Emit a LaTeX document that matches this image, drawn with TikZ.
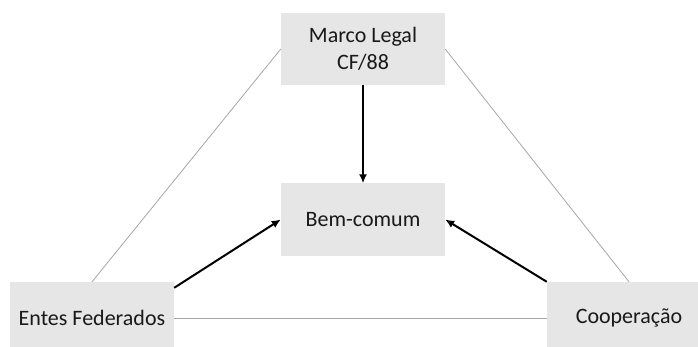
\documentclass[tikz,border=0pt]{standalone}
\usepackage{fontspec}
\setmainfont{Carlito}
\usetikzlibrary{arrows.meta}
\definecolor{boxgray}{HTML}{E6E6E6}
\definecolor{linegray}{HTML}{A6A6A6}
\tikzset{
  box/.style={fill=boxgray, draw=none, minimum width=164pt, minimum height=72pt, inner sep=0pt, align=center, font=\fontsize{22}{27}\selectfont, text=black!90},
  thinline/.style={draw=linegray, line width=0.8pt},
  arrowline/.style={draw=black, line width=2pt, -{Latex[length=9pt,width=8pt]}}
}
\begin{document}
\begin{tikzpicture}[x=1pt,y=-1pt]
\useasboundingbox (0,0) rectangle (698,347);
\node[box] (top) at (363,49) {Marco Legal\\CF/88};
\node[box] (bem) at (363,219.5) {Bem-comum};
\node[box] (left) at (92,318) {Entes Federados};
\node[box] (right) at (629,318) {Cooperação};
\coordinate (ls) at ([yshift=-6pt]left.north east);
\draw[thinline] (top.west) -- (left.north);
\draw[thinline] (top.east) -- (right.north);
\draw[thinline] (left.east) -- (right.west);
\draw[arrowline] (top.south) -- (bem.north);
\draw[arrowline] (ls) -- (bem.west);
\draw[arrowline] (right.north west) -- (bem.east);
\end{tikzpicture}
\end{document}
